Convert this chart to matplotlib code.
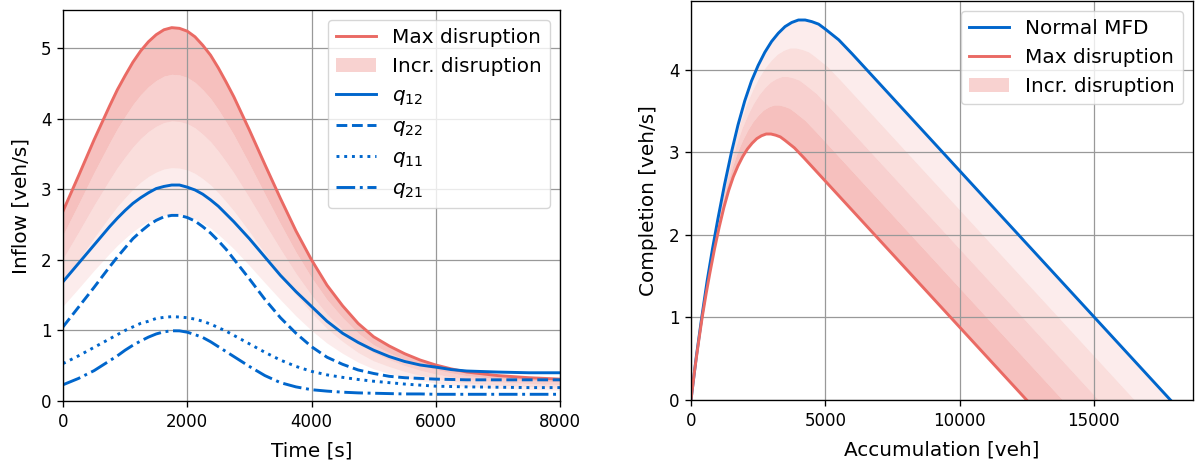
import numpy as np
import matplotlib
matplotlib.use('Agg')
import matplotlib.pyplot as plt
from matplotlib.patches import Patch

# Left panel: inflow profiles over time
time_s = [0, 250, 500, 750, 875, 1000, 1125, 1250, 1375, 1500, 1625, 1750, 1875, 2000,
          2125, 2250, 2375, 2500, 2625, 2750, 3000, 3250, 3500, 3750, 4000, 4250, 4500,
          4750, 5000, 5250, 5500, 5750, 6000, 6250, 6500, 7000, 7500, 8000]
max_disruption = [2.69, 3.19, 3.70, 4.18, 4.41, 4.61, 4.80, 4.96, 5.09, 5.19, 5.26, 5.29, 5.28, 5.24,
                  5.16, 5.04, 4.90, 4.72, 4.52, 4.31, 3.84, 3.35, 2.87, 2.41, 2.00, 1.64, 1.35,
                  1.10, 0.91, 0.78, 0.67, 0.58, 0.51, 0.455, 0.41, 0.36, 0.33, 0.31]
q12 = [1.69, 1.95, 2.21, 2.47, 2.59, 2.70, 2.80, 2.88, 2.95, 3.01, 3.04, 3.06, 3.06, 3.03,
       2.99, 2.93, 2.85, 2.76, 2.65, 2.54, 2.30, 2.04, 1.78, 1.55, 1.34, 1.13, 0.96,
       0.83, 0.72, 0.63, 0.56, 0.51, 0.48, 0.445, 0.425, 0.41, 0.40, 0.40]
q22 = [1.05, 1.33, 1.61, 1.90, 2.04, 2.17, 2.30, 2.40, 2.49, 2.56, 2.61, 2.63, 2.63, 2.60,
       2.55, 2.47, 2.38, 2.27, 2.15, 2.01, 1.73, 1.44, 1.18, 0.96, 0.77, 0.62, 0.52,
       0.44, 0.39, 0.35, 0.33, 0.32, 0.31, 0.305, 0.30, 0.30, 0.30, 0.30]
q11 = [0.53, 0.64, 0.76, 0.88, 0.94, 1.00, 1.05, 1.10, 1.13, 1.17, 1.185, 1.195, 1.19, 1.18,
       1.16, 1.13, 1.09, 1.04, 0.99, 0.93, 0.81, 0.69, 0.58, 0.49, 0.42, 0.37, 0.335,
       0.305, 0.28, 0.26, 0.24, 0.225, 0.21, 0.205, 0.20, 0.195, 0.19, 0.19]
q21 = [0.23, 0.32, 0.43, 0.57, 0.64, 0.72, 0.79, 0.85, 0.905, 0.95, 0.98, 0.995, 0.994, 0.975,
       0.94, 0.90, 0.84, 0.77, 0.70, 0.63, 0.49, 0.36, 0.26, 0.20, 0.16, 0.14, 0.125,
       0.115, 0.11, 0.105, 0.10, 0.10, 0.095, 0.095, 0.095, 0.095, 0.095, 0.095]
# share of the max-disruption inflow at each band edge
inflow_levels = [0.5, 0.625, 0.75, 0.875, 1.0]

# Right panel: MFD
accum_veh = [0, 200, 400, 600, 800, 1000, 1250, 1500, 1750, 2000, 2250, 2500, 2750,
             3000, 3250, 3500, 3750, 4000, 4250, 4500, 4750, 5000, 5500, 6000, 17850]
normal_mfd = [0, 0.53, 1.00, 1.44, 1.83, 2.19, 2.61, 2.99, 3.33, 3.62, 3.86, 4.05, 4.21,
              4.34, 4.44, 4.52, 4.57, 4.60, 4.60, 4.58, 4.55, 4.49, 4.36, 4.19, 0]
# capacity / jam scale of each disrupted MFD, from max disruption to normal
mfd_scales = [0.7, 0.775, 0.85, 0.925, 1.0]

blue = '#0066CC'
red = '#EA6A64'
band_alphas = [0.12, 0.22, 0.31, 0.42]

plt.rcParams.update({
    'font.size': 12,
    'axes.linewidth': 0.96,
    'xtick.major.size': 4.2, 'ytick.major.size': 4.2,
    'xtick.major.width': 0.96, 'ytick.major.width': 0.96,
    'xtick.major.pad': 4.2, 'ytick.major.pad': 4.2,
    'axes.labelsize': 14.4, 'axes.labelpad': 7.5,
    'legend.fontsize': 14.4,
    'lines.linewidth': 2.1,
})

fig = plt.figure(figsize=(11.95, 4.66), dpi=100)
ax1 = fig.add_axes([63 / 1195, 65 / 466, 497 / 1195, 391 / 466])
ax2 = fig.add_axes([691 / 1195, 66 / 466, 502 / 1195, 399 / 466])

# --- left: inflows
t = np.array(time_s)
qmax = np.array(max_disruption)
for i in range(4):
    ax1.fill_between(t, inflow_levels[i] * qmax, inflow_levels[i + 1] * qmax,
                     color=red, alpha=band_alphas[i], lw=0)
ax1.plot(t, qmax, color=red, label='Max disruption')
ax1.plot(t, q12, color=blue, ls='-', label='$q_{12}$')
ax1.plot(t, q22, color=blue, ls='--', label='$q_{22}$')
ax1.plot(t, q11, color=blue, ls=':', label='$q_{11}$')
ax1.plot(t, q21, color=blue, ls='-.', label='$q_{21}$')
ax1.set_xlim(0, 8000)
ax1.set_ylim(0, 5.54)
ax1.set_xticks([0, 2000, 4000, 6000, 8000])
ax1.set_xlabel('Time [s]')
ax1.set_ylabel('Inflow [veh/s]')
ax1.grid(True, color='#999999', lw=0.9)
h, l = ax1.get_legend_handles_labels()
incr = Patch(facecolor=red, alpha=0.3, edgecolor='none', label='Incr. disruption')
ax1.legend([h[0], incr] + h[1:], [l[0], 'Incr. disruption'] + l[1:], loc='upper right')

# --- right: MFDs
n = np.array(accum_veh)
qn = np.array(normal_mfd)
for i in range(4):
    s0, s1 = mfd_scales[i], mfd_scales[i + 1]
    xs = np.concatenate([s1 * n, (s0 * n)[::-1]])
    ys = np.concatenate([s1 * qn, (s0 * qn)[::-1]])
    ax2.fill(xs, ys, color=red, alpha=band_alphas[3 - i], lw=0)
ax2.plot(n, qn, color=blue, label='Normal MFD')
ax2.plot(mfd_scales[0] * n, mfd_scales[0] * qn, color=red, label='Max disruption')
ax2.set_xlim(0, 18690)
ax2.set_ylim(0, 4.83)
ax2.set_xticks([0, 5000, 10000, 15000])
ax2.set_xlabel('Accumulation [veh]')
ax2.set_ylabel('Completion [veh/s]')
ax2.grid(True, color='#999999', lw=0.9)
h, l = ax2.get_legend_handles_labels()
ax2.legend(h + [incr], l + ['Incr. disruption'], loc='upper right')

fig.savefig('out.png', dpi=100)
